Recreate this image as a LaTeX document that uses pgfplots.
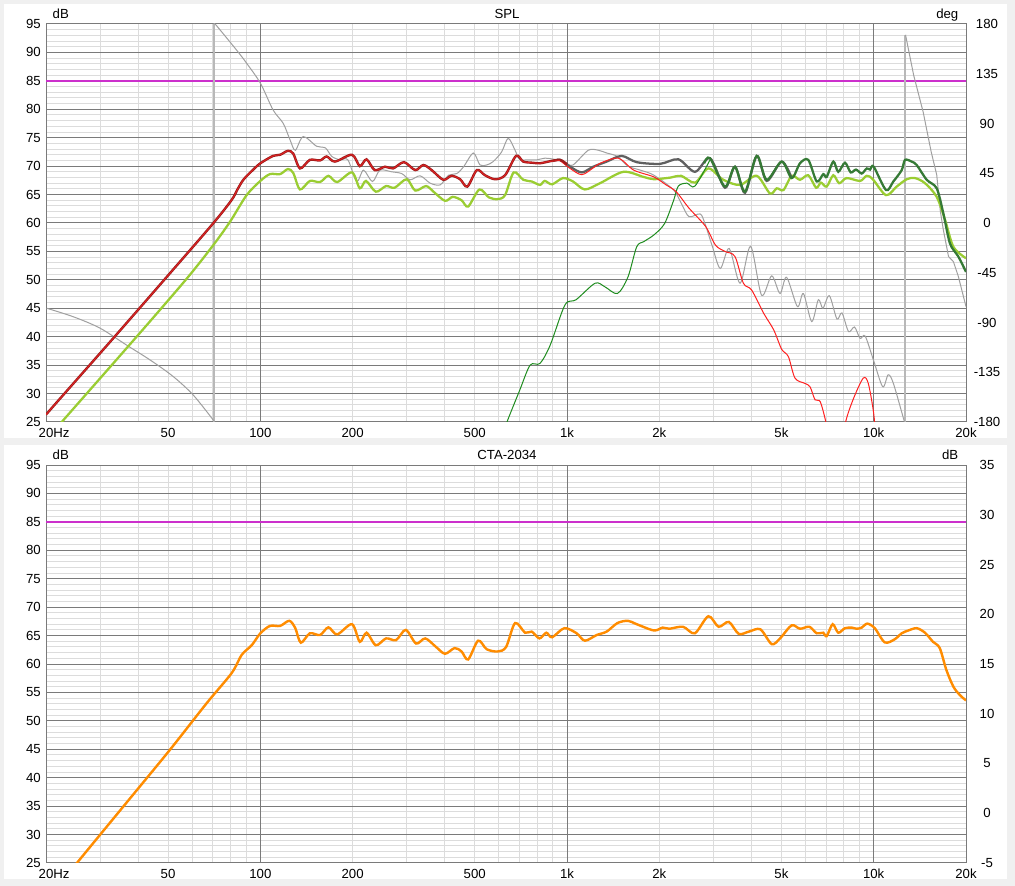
\documentclass[border=0pt]{standalone}
\usepackage{fontspec}
\setmainfont{Liberation Sans}
\usepackage{pgfplots}
\pgfplotsset{compat=1.18}
\pgfkeys{/pgf/number format/assume math mode=true}
\definecolor{bg}{HTML}{F0F0F0}
\definecolor{gmaj}{HTML}{7A7A7A}
\definecolor{gmin}{HTML}{DCDCDC}
\definecolor{mag}{HTML}{CC30CC}
\definecolor{dred}{HTML}{9B1C1C}
\definecolor{bred}{HTML}{E52222}
\definecolor{tred}{HTML}{FF2020}
\definecolor{lgreen}{HTML}{9ACD32}
\definecolor{dgreen}{HTML}{357A35}
\definecolor{tgreen}{HTML}{1E8C1E}
\definecolor{dgray}{HTML}{606060}
\definecolor{phgray}{HTML}{A0A0A0}
\definecolor{phjump}{HTML}{B8B8B8}
\definecolor{orng}{HTML}{FF8C00}
\newcommand{\lblfont}{\fontsize{9.9}{11}\selectfont}
\begin{document}
\begin{tikzpicture}
\fill[bg] (0pt,0pt) rectangle (761.25pt,664.5pt);
\fill[white] (3pt,336pt) rectangle (755.25pt,661.5pt);
\fill[white] (3pt,5.25pt) rectangle (755.25pt,330.75pt);

% ---------------- top panel: SPL ----------------
\begin{axis}[at={(34.5pt,348pt)}, anchor=south west, scale only axis, width=690pt, height=298.5pt,
   xmode=log, xmin=20, xmax=20000, ymin=25, ymax=95,
   major tick length=0pt, minor tick length=0pt,
   ticklabel style={font=\lblfont, text=black, inner sep=0pt},
   axis line style={gmaj, line width=0.75pt},
   xtick={20,50,100,200,500,1000,2000,5000,10000,20000},
   xticklabels={20\rlap{Hz},50,100,200,500,1k,2k,5k,10k,20k},
   minor xtick={30,40,50,60,70,80,90,200,300,400,500,600,700,800,900,2000,3000,4000,5000,6000,7000,8000,9000},
   ytick={25,30,...,95}, minor y tick num=4,
   xmajorgrids=false, xminorgrids=true, ymajorgrids=true, yminorgrids=true,
   major grid style={gmaj, line width=0.75pt}, minor grid style={gmin, line width=0.75pt},
   xticklabel style={anchor=center, yshift=-8pt},
   yticklabel style={anchor=east, xshift=-3.75pt}]
\addplot[gmaj, line width=0.75pt] coordinates {(100,25) (100,95)};
\addplot[gmaj, line width=0.75pt] coordinates {(1000,25) (1000,95)};
\addplot[gmaj, line width=0.75pt] coordinates {(10000,25) (10000,95)};
\addplot[mag, line width=1.1pt] coordinates {(20,85) (20000,85)};
\end{axis}

\begin{axis}[at={(34.5pt,348pt)}, anchor=south west, scale only axis, width=690pt, height=298.5pt,
   xmode=log, xmin=20, xmax=20000, ymin=-180, ymax=180,
   major tick length=0pt, minor tick length=0pt,
   ticklabel style={font=\lblfont, text=black, inner sep=0pt},
   axis y line*=right, axis x line=none, y axis line style={draw=none},
   ytick={-180,-135,...,180},
   yticklabel style={anchor=center, xshift=15.75pt}]
% phase wraps
\addplot[phjump, line width=1.4pt] coordinates {(70.65,-180) (70.65,180)};
\addplot[phjump, line width=1.1pt] coordinates {(12660,-180) (12660,170)};
% phase curve
\addplot[phgray, line width=0.75pt, smooth] coordinates {
(20.1,-77.1) (24.6,-84.9) (30.0,-95.1) (36.7,-110.6) (43.7,-123.9) (52.0,-138.9)
(60.4,-155.6) (70.2,-178.2) (70.6,-180)};
\addplot[phgray, line width=0.75pt, smooth] coordinates {
(70.7,180) (71.7,179.0) (83.7,156.3)
(90.2,144.5) (100,126.5) (110,102.3) (118.8,90.0) (125,75.1) (130,65.8)
(138,78.2) (152.6,69.4) (163,67.9) (171,60.2) (182,57.1) (193,57.1) (206,37.5)
(217,47.8) (232,37.5) (245.6,47.8) (268,46.3) (289,44.7) (308,39.1) (332,42.7)
(358,36.0) (386,34.5) (411,43.2) (437,44.7) (460,50.9) (495,63.3) (520,52.5)
(547,52.5) (574,55.5) (612,64.3) (643,76.6) (677,65.8) (700,57.6) (748,57.1)
(797,57.1) (846,58.6) (909,57.6) (990,54.5) (1046,52.5) (1173,65.8) (1265,65.8)
(1347,63.3) (1460,60.2) (1580,51.4) (1735,47.8) (1920,43.2) (2227,29.8)
(2370,16.5) (2500,5.7) (2716,8.2) (2815,-0.3) (2970,-20.1) (3160,-41.1)
(3380,-23.1) (3668,-54.5) (3970,-21.1) (4310,-65.3) (4650,-47.8) (4950,-63.8)
(5200,-49.1) (5640,-75.6) (5900,-63.8) (6280,-89.2) (6600,-69.4) (6830,-77.1)
(7170,-65.8) (7590,-86.9) (7880,-81.3) (8280,-98.2) (8660,-94.1) (9030,-104.4)
(9380,-102.3) (9980,-123.9) (10700,-148.1) (11150,-137.3) (11590,-145.0)
(12550,-178.2) (12650,-180)};
\addplot[phgray, line width=0.75pt] coordinates {
(12700,170.2) (13500,133.7) (14500,100.3)
(15400,64.3) (16050,43.7) (16500,10.3) (16870,-6.2) (17540,-30.3) (18200,-35.0)
(18880,-48.3) (20000,-75.6)};
\end{axis}

\begin{axis}[at={(34.5pt,348pt)}, anchor=south west, scale only axis, width=690pt, height=298.5pt,
   xmode=log, xmin=20, xmax=20000, ymin=25, ymax=95, hide axis]
\addplot[lgreen, line width=1.7pt, smooth] coordinates {
(20,21.8) (22.8,25.35) (39.5,40.0) (57.5,50.2) (70.2,56.1) (79.6,60.2) (90.2,64.9)
(100,67.4) (107.5,68.6) (116,68.6) (123,69.5) (128,68.8) (134.7,65.9) (145,67.4)
(156.5,67.2) (166.7,68.3) (178,67.2) (199,68.9) (211,66.1) (221,67.4) (238,65.5)
(257,66.5) (274,66.2) (300,67.7) (320,65.7) (347,66.5) (367,65.5) (400,63.9)
(424,64.6) (453,64.0) (476,62.9) (518,65.9) (556,64.5) (594,64.2) (628,64.9)
(670,68.9) (720,67.6) (767,67.3) (816,66.7) (846,67.4) (894,66.8) (970,67.9)
(1046,67.3) (1143,65.9) (1281,67.0) (1527,69.0) (1777,68.1) (1920,67.7)
(2183,68.0) (2355,68.3) (2614,67.1) (2890,69.6) (3233,67.6) (3668,66.7)
(4155,68.3) (4590,65.2) (4830,66.1) (5080,65.8) (5404,68.3) (5750,67.6)
(6120,68.4) (6490,66.2) (6730,67.1) (7025,66.4) (7385,68.4) (7720,67.0)
(8160,67.9) (9030,67.4) (9490,68.3) (9930,67.7) (10970,64.9) (11880,66.4)
(12820,67.7) (13640,67.9) (14700,67.0) (16050,64.6) (17100,60.5) (18200,55.8)
(20000,53.8)};
\addplot[tgreen, line width=0.75pt, smooth] coordinates {
(600,21) (637,25) (700,30.5) (758,35) (816,35.3) (881,38.5) (985,45.6) (1070,46.5)
(1234,49.4) (1327,48.8) (1460,47.6) (1580,50.5) (1687,55.8) (1777,56.7)
(1920,57.9) (2080,59.9) (2227,64) (2307,66.5) (2460,67) (2614,66.5) (2926,71.1)};
\addplot[dgray, line width=1.7pt, smooth] coordinates {
(900,70.9) (949,71.1) (1023,69.9) (1117,68.9) (1218,69.9) (1347,70.8) (1508,71.8)
(1687,70.7) (2010,70.4) (2307,71.2) (2614,69.0) (2926,71.4) (3274,66.2) (3529,69.9)
(3805,65.3) (4155,71.8) (4478,67.4) (5012,70.8) (5404,67.9)};
% woofer (thin red) beyond the crossover
\addplot[tred, line width=0.75pt, smooth] coordinates {
(949,71.0) (1023,69.6) (1117,68.5) (1218,69.7) (1281,70.5) (1470,71.4) (1650,69.3)
(1920,68.1) (2104,66.7) (2270,65.5) (2500,62.6) (2830,59.4) (3050,56.1) (3274,55.0)
(3529,54.1) (3760,49.4) (4000,48.2) (4380,44.1) (4720,41.2) (5010,37.8) (5270,36.5)
(5540,32.7) (5960,31.8) (6200,31.2) (6440,28.9) (6690,28.6) (6980,25.05) (7200,21)
(7700,17) (7950,21) (8100,25.0) (8560,28.9) (9240,32.7) (9600,31.8) (10000,26.5)
(10200,21)};
\addplot[dred, line width=1.8pt, smooth] coordinates {
(20,26.3) (22.8,29.8) (33.1,39.7) (50.7,51.15) (70.2,59.95) (80.6,64.05) (84,65.8)
(88,67.6) (94,69.2) (100,70.5) (110,71.8) (116,72.0) (123,72.7) (128,72.2)
(134.7,69.6) (145,71.1) (156.5,71.0) (164.6,71.7) (175,70.8) (199,72.0) (211,70.0)
(222,71.2) (236,69.3) (255,69.9) (271,69.6) (294,70.7) (320,69.3) (340,70.2)
(362,69.3) (395,67.6) (420,68.3) (448,67.7) (473,66.4) (508,69.3) (540,68.4)
(582,67.7) (628,68.4) (682,71.8) (720,70.8) (770,70.6) (816,70.5) (869,70.8)
(949,71.1) (1000,70.3)};
\addplot[bred, line width=0.6pt, smooth] coordinates {
(20,26.3) (22.8,29.8) (33.1,39.7) (50.7,51.15) (70.2,59.95) (80.6,64.05) (84,65.8)
(88,67.6) (94,69.2) (100,70.5) (110,71.8) (116,72.0) (123,72.7) (128,72.2)
(134.7,69.6) (145,71.1) (156.5,71.0) (164.6,71.7) (175,70.8) (199,72.0) (211,70.0)
(222,71.2) (236,69.3) (255,69.9) (271,69.6) (294,70.7) (320,69.3) (340,70.2)
(362,69.3) (395,67.6) (420,68.3) (448,67.7) (473,66.4) (508,69.3) (540,68.4)
(582,67.7) (628,68.4) (682,71.8) (720,70.8) (770,70.6) (816,70.5) (869,70.8)
(949,71.0)};
\addplot[dgreen, line width=1.7pt, smooth] coordinates {
(2800,70.5) (2926,71.4) (3274,66.4) (3529,69.9) (3805,65.5) (4155,71.8) (4478,67.6)
(5012,70.8) (5404,67.9) (5750,70.5) (6120,71.1) (6520,67.3) (6850,68.6) (7025,68.1)
(7385,70.8) (7666,69.0) (8060,70.6) (8414,68.9) (8757,69.4) (9140,68.7) (9490,69.6)
(9730,69.4) (10000,69.9) (10970,65.8) (11590,67.3) (12340,69.3) (12650,71.1)
(13300,70.8) (13810,70.2) (14890,67.6) (16050,66.1) (16870,61.7) (17730,56.4)
(18880,54.1) (20000,51.4)};
\end{axis}

% ---------------- bottom panel: CTA-2034 ----------------
\begin{axis}[at={(34.5pt,17.25pt)}, anchor=south west, scale only axis, width=690pt, height=298.5pt,
   xmode=log, xmin=20, xmax=20000, ymin=25, ymax=95,
   major tick length=0pt, minor tick length=0pt,
   ticklabel style={font=\lblfont, text=black, inner sep=0pt},
   axis line style={gmaj, line width=0.75pt},
   xtick={20,50,100,200,500,1000,2000,5000,10000,20000},
   xticklabels={20\rlap{Hz},50,100,200,500,1k,2k,5k,10k,20k},
   minor xtick={30,40,50,60,70,80,90,200,300,400,500,600,700,800,900,2000,3000,4000,5000,6000,7000,8000,9000},
   ytick={25,30,...,95}, minor y tick num=4,
   xmajorgrids=false, xminorgrids=true, ymajorgrids=true, yminorgrids=true,
   major grid style={gmaj, line width=0.75pt}, minor grid style={gmin, line width=0.75pt},
   xticklabel style={anchor=center, yshift=-8pt},
   yticklabel style={anchor=east, xshift=-3.75pt}]
\addplot[gmaj, line width=0.75pt] coordinates {(100,25) (100,95)};
\addplot[gmaj, line width=0.75pt] coordinates {(1000,25) (1000,95)};
\addplot[gmaj, line width=0.75pt] coordinates {(10000,25) (10000,95)};
\addplot[mag, line width=1.1pt] coordinates {(20,85) (20000,85)};
\addplot[orng, line width=1.8pt, smooth] coordinates {
(24,23.5) (25.8,25.65) (35.7,34.9) (50.7,44.9) (66.8,53.1) (80.6,58.4) (86.9,61.6)
(93.7,63.3) (100,65.4) (107.5,66.7) (116,66.7) (124.3,67.6) (130,66.3) (135.5,63.75)
(145,65.4) (156.5,65.1) (166.7,66.45) (178,65.2) (199,67.0) (211,63.9) (222,65.5)
(238,63.3) (257,64.5) (277,64.2) (298,66.0) (322,63.6) (345,64.5) (374,63.0)
(400,61.8) (430,62.8) (453,62.2) (476,60.8) (513,64.1) (547,62.6) (594,62.2)
(633,63.0) (677,67.2) (730,65.5) (767,65.7) (813,64.5) (856,65.5) (894,64.7)
(980,66.3) (1075,65.4) (1143,64.1) (1250,65.1) (1347,65.7) (1460,67.2) (1580,67.6)
(1687,67.0) (1920,65.9) (2050,66.4) (2155,66.2) (2390,66.55) (2610,65.4) (2890,68.4)
(3120,66.55) (3370,67.4) (3630,65.3) (3920,65.7) (4270,66.1) (4650,63.5) (4950,64.5)
(5400,66.8) (5750,66.2) (6170,66.55) (6520,65.4) (6850,65.5) (7025,64.9) (7350,67.0)
(7666,65.5) (8060,66.3) (8480,66.4) (8800,66.2) (9140,66.4) (9530,67.1) (10080,66.3)
(10870,63.8) (11710,64.35) (12340,65.4) (12980,65.9) (13810,66.3) (14700,65.5)
(15610,63.9) (16420,62.8) (17260,58.95) (18200,56.0) (19130,54.5) (20000,53.6)};
\end{axis}
\begin{axis}[at={(34.5pt,17.25pt)}, anchor=south west, scale only axis, width=690pt, height=298.5pt,
   xmode=log, xmin=20, xmax=20000, ymin=-5, ymax=35,
   major tick length=0pt, minor tick length=0pt,
   ticklabel style={font=\lblfont, text=black, inner sep=0pt},
   axis y line*=right, axis x line=none, y axis line style={draw=none},
   ytick={-5,0,...,35},
   yticklabel style={anchor=center, xshift=15.75pt}]
\addplot[draw=none] coordinates {(100,0)};
\end{axis}

\node[font=\lblfont, anchor=base west] at (36pt,650.25pt) {dB};
\node[font=\lblfont, anchor=base] at (380.25pt,650.25pt) {SPL};
\node[font=\lblfont, anchor=base east] at (722.25pt,650.25pt) {deg};
\node[font=\lblfont, anchor=base west] at (36pt,319.5pt) {dB};
\node[font=\lblfont, anchor=base] at (380.25pt,319.5pt) {CTA-2034};
\node[font=\lblfont, anchor=base east] at (722.25pt,319.5pt) {dB};
\end{tikzpicture}
\end{document}
